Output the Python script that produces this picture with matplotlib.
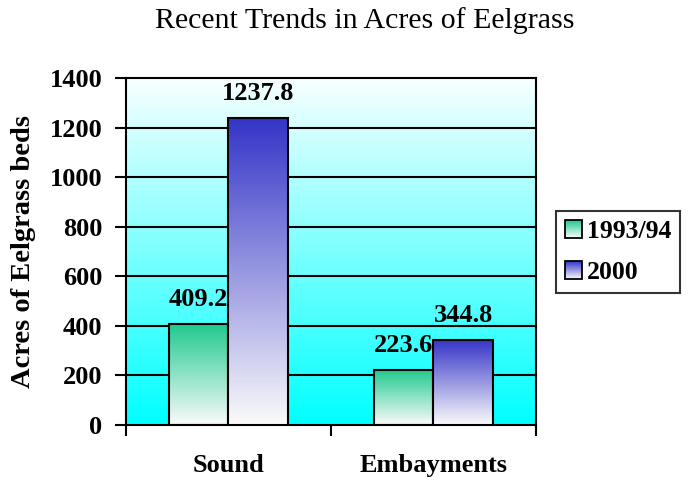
import numpy as np
import matplotlib
matplotlib.use("Agg")
import matplotlib.pyplot as plt
from matplotlib.colors import LinearSegmentedColormap
from matplotlib.patches import Rectangle
from matplotlib.image import BboxImage
from matplotlib.transforms import Bbox, TransformedBbox
from matplotlib.legend_handler import HandlerBase

categories = ["Sound", "Embayments"]
series_names = ["1993/94", "2000"]
acres_9394 = [409.2, 223.6]
acres_2000 = [1237.8, 344.8]
yticks = [0, 200, 400, 600, 800, 1000, 1200, 1400]

top_colors = ["#1ec98e", "#3434c8"]

plt.rcParams["font.family"] = ["Liberation Serif", "DejaVu Serif"]


def grad_cmap(name, top):
    return LinearSegmentedColormap.from_list(name, ["#fbfbfb", top])


class GradHandler(HandlerBase):
    # legend square filled with the same vertical gradient as the bars
    def __init__(self, cmap):
        super().__init__()
        self.cmap = cmap

    def create_artists(self, legend, orig_handle, xdescent, ydescent,
                       width, height, fontsize, trans):
        bb = TransformedBbox(Bbox.from_bounds(-xdescent, -ydescent, width, height), trans)
        img = BboxImage(bb, cmap=self.cmap, origin="lower", interpolation="bilinear")
        img.set_data(np.linspace(0, 1, 64).reshape(-1, 1))
        r = Rectangle((-xdescent, -ydescent), width, height, facecolor="none",
                      edgecolor="black", lw=1.3, transform=trans)
        return [img, r]


fig = plt.figure(figsize=(6.88, 4.8), dpi=100)
ax = fig.add_axes([0.183, 0.1146, 0.596, 0.7229])

ymax = 1400
ax.set_xlim(-0.5, 1.5)
ax.set_ylim(0, ymax)

# background fades from cyan at the bottom to almost white at the top
bg = LinearSegmentedColormap.from_list("bg", ["#00ffff", "#f8ffff"])
ax.imshow(np.linspace(0, 1, 256).reshape(-1, 1), cmap=bg, origin="lower",
          extent=[-0.5, 1.5, 0, ymax], aspect="auto", zorder=0)

for y in yticks[1:-1]:
    ax.axhline(y, color="black", lw=1.5, zorder=1)

width = 0.29
x = np.arange(len(categories))
handles = []
cmaps = []
for k, vals in enumerate([acres_9394, acres_2000]):
    cmap = grad_cmap("b%d" % k, top_colors[k])
    cmaps.append(cmap)
    z = 2 + 3 * k
    offs = (k - 0.5) * width
    bars = ax.bar(x + offs, vals, width, facecolor="none", edgecolor="black",
                  lw=1.5, zorder=z + 1)
    handles.append(bars[0])
    for bar, v in zip(bars, vals):
        x0 = bar.get_x()
        im = ax.imshow(np.linspace(0, 1, 256).reshape(-1, 1), cmap=cmap, origin="lower",
                       extent=[x0, x0 + width, 0, v], aspect="auto", zorder=z)
        im.set_clip_path(bar)
        ax.text(x0 + width / 2, v + 72, "%.1f" % v, ha="center", va="baseline",
                fontsize=19, fontweight="bold", zorder=z + 2)

ax.set_xlim(-0.5, 1.5)
ax.set_ylim(0, ymax)

ax.set_yticks(yticks)
ax.set_yticklabels([str(t) for t in yticks], fontsize=19, fontweight="bold")
ax.tick_params(axis="y", direction="out", length=8, width=1.5, pad=9)

ax.set_xticks([-0.5, 0.5, 1.5])
ax.set_xticklabels([])
ax.tick_params(axis="x", direction="out", length=8, width=1.5)
for xc, name in zip(x, categories):
    ax.text(xc, -162, name, ha="center", va="center", fontsize=19,
            fontweight="bold")

for s in ax.spines.values():
    s.set_linewidth(1.5)

ax.set_ylabel("Acres of Eelgrass beds", fontsize=20.5, fontweight="bold", labelpad=10)
fig.text(0.53, 0.958, "Recent Trends in Acres of Eelgrass", fontsize=21.5,
         ha="center", va="center")

leg = fig.legend(handles, series_names, loc="center left", bbox_to_anchor=(0.808, 0.475),
                 prop={"size": 18.5, "weight": "bold"}, frameon=True, fancybox=False,
                 edgecolor="black", handlelength=0.65, handleheight=0.65,
                 handletextpad=0.2, labelspacing=0.7, borderpad=0.35, borderaxespad=0,
                 handler_map={handles[0]: GradHandler(cmaps[0]),
                              handles[1]: GradHandler(cmaps[1])})
leg.get_frame().set_linewidth(1.5)

fig.savefig("out.png", dpi=100)
